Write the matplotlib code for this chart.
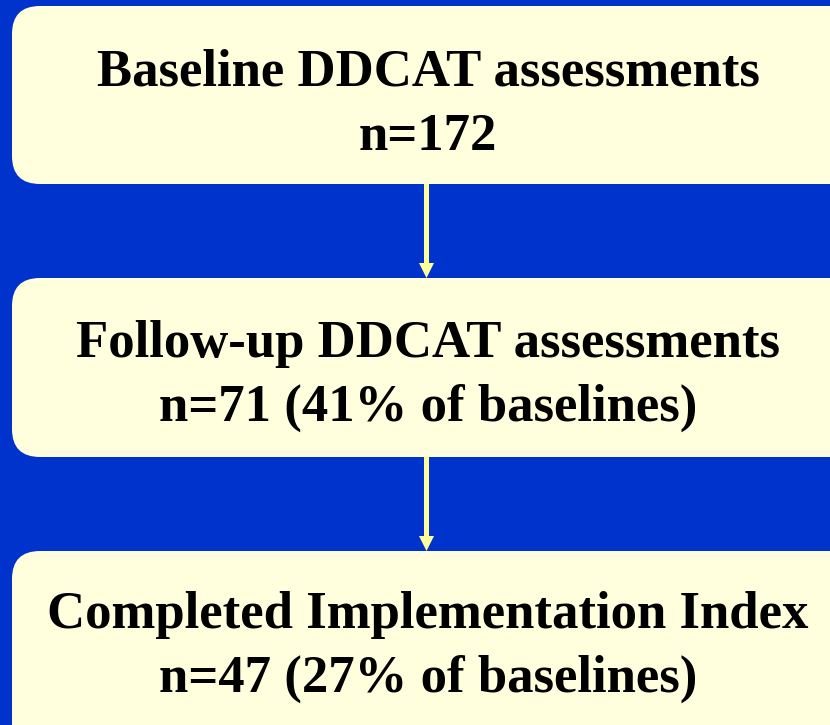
import matplotlib.pyplot as plt
from matplotlib.patches import FancyBboxPatch, FancyArrow

# flowchart content
stages = ["Baseline DDCAT assessments",
          "Follow-up DDCAT assessments",
          "Completed Implementation Index"]
counts = [172, 71, 47]
pct_of_baseline = [None, 41, 27]

BLUE = "#0033cc"
CREAM = "#ffffdd"
ARROW = "#ffff99"

fig = plt.figure(figsize=(8.3, 7.25), dpi=100, facecolor=BLUE)
ax = fig.add_axes([0, 0, 1, 1])
ax.set_xlim(0, 830)
ax.set_ylim(725, 0)
ax.axis("off")

# box geometry in pixels (top, bottom)
boxes = [(6, 184), (278, 457), (551, 760)]
text_y = [105, 376, 647]
left, right = 12, 860
pad = 28

for i, (top, bot) in enumerate(boxes):
    ax.add_patch(FancyBboxPatch((left + pad, top + pad),
                                right - left - 2 * pad, bot - top - 2 * pad,
                                boxstyle="round,pad=%d" % pad,
                                fc=CREAM, ec="none", zorder=2))
    line2 = "n=%d" % counts[i]
    if pct_of_baseline[i] is not None:
        line2 += " (%d%% of baselines)" % pct_of_baseline[i]
    txt = stages[i] + "\n" + line2
    ax.text(428, text_y[i], txt, ha="center", va="center",
            fontsize=38, fontweight="bold", family="Liberation Serif",
            linespacing=1.45, color="black", zorder=3)

# arrows between boxes
for i in range(len(boxes) - 1):
    y0 = boxes[i][1]
    y1 = boxes[i + 1][0]
    ax.add_patch(FancyArrow(426.5, y0, 0, y1 - y0, width=5, head_width=15,
                            head_length=15, length_includes_head=True,
                            fc=ARROW, ec="none", zorder=1))

fig.savefig("out.png", dpi=100, facecolor=BLUE)
